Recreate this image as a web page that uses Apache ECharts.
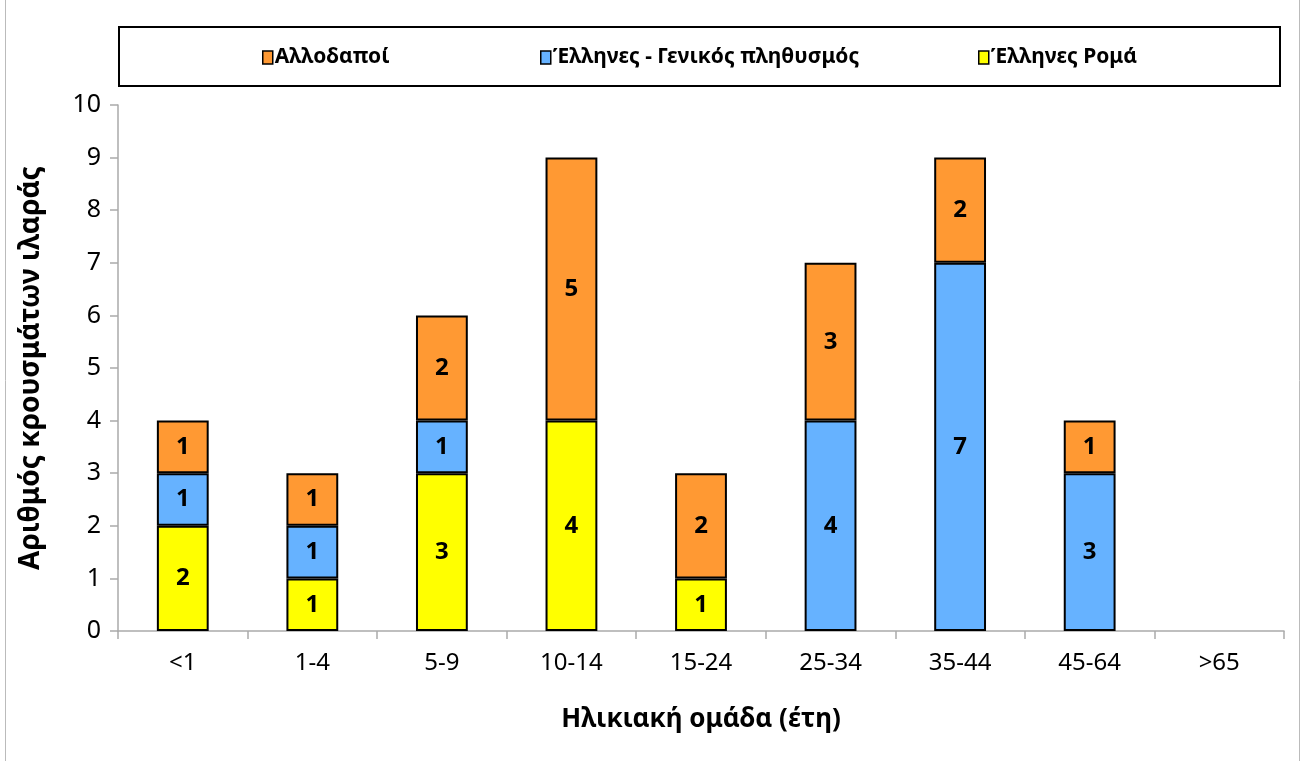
<!DOCTYPE html>
<html><head><meta charset="utf-8">
<script src="https://cdn.jsdelivr.net/npm/echarts@6/dist/echarts.min.js"></script>
<style>html,body{margin:0;padding:0;background:#fff}#c{width:1303px;height:761px}</style>
</head><body><div id="c"></div>
<script>
const categories = ['<1','1-4','5-9','10-14','15-24','25-34','35-44','45-64','>65'];
const roma = [2,1,3,4,1,0,0,0,0];
const greekGeneral = [1,1,1,0,0,4,7,3,0];
const foreigners = [1,1,2,5,2,3,2,1,0];
const names = ['Αλλοδαποί','Έλληνες - Γενικός πληθυσμός','Έλληνες Ρομά'];
const yTicks = [0,10,1];

const FONT = '"Noto Sans", "Open Sans", sans-serif';
const chart = echarts.init(document.getElementById('c'));
function mk(name, arr, color){
  return {
    name, type:'bar', stack:'t', barWidth:'40%',
    data: arr.map(v => v === 0 ? null : v),
    itemStyle:{color, borderColor:'#000', borderWidth:2},
    label:{show:true, position:'inside', color:'#000', fontWeight:'bold', fontSize:24, fontFamily:FONT},
    emphasis:{disabled:true}
  };
}
const legendBase = {top:42, itemWidth:10, itemHeight:13, itemGap:0, icon:'rect',
  textStyle:{fontFamily:FONT, fontWeight:'bold', fontSize:21, color:'#000', padding:[0,0,0,-3]},
  itemStyle:{borderColor:'#000', borderWidth:1.5}};
chart.setOption({
  animation:false,
  graphic:[
    {type:'rect', shape:{x:5.5,y:-2,width:1294,height:770}, style:{fill:'none', stroke:'#bbb', lineWidth:1}},
    {type:'rect', shape:{x:119,y:27,width:1161,height:59}, style:{fill:'#fff', stroke:'#000', lineWidth:2}, z:-1}
  ],
  legend:[
    Object.assign({}, legendBase, {left:257, data:[names[0]]}),
    Object.assign({}, legendBase, {left:535, data:[names[1]]}),
    Object.assign({}, legendBase, {left:973, data:[names[2]]})
  ],
  grid:{left:118, right:19, top:105, bottom:130},
  xAxis:{type:'category', data:categories,
    name:'Ηλικιακή ομάδα (έτη)', nameLocation:'middle', nameGap:76,
    nameTextStyle:{fontFamily:FONT, fontWeight:'bold', fontSize:26, color:'#000'},
    axisLine:{lineStyle:{color:'#aaa', width:1.5}},
    axisTick:{show:true, length:8, lineStyle:{color:'#aaa', width:1.5}},
    axisLabel:{fontFamily:FONT, fontSize:24, color:'#000', margin:20}
  },
  yAxis:{type:'value', min:yTicks[0], max:yTicks[1], interval:yTicks[2],
    name:'Αριθμός κρουσμάτων ιλαράς', nameLocation:'middle', nameGap:73,
    nameTextStyle:{fontFamily:FONT, fontWeight:'bold', fontSize:28, color:'#000'},
    splitLine:{show:false},
    axisLine:{show:true, lineStyle:{color:'#aaa', width:1.5}},
    axisTick:{show:true, length:8, lineStyle:{color:'#aaa', width:1.5}},
    axisLabel:{fontFamily:FONT, fontSize:25, color:'#000', margin:17}
  },
  series:[
    mk(names[2], roma, '#FFFF00'),
    mk(names[1], greekGeneral, '#66B2FF'),
    mk(names[0], foreigners, '#FF9933')
  ]
});
</script></body></html>
